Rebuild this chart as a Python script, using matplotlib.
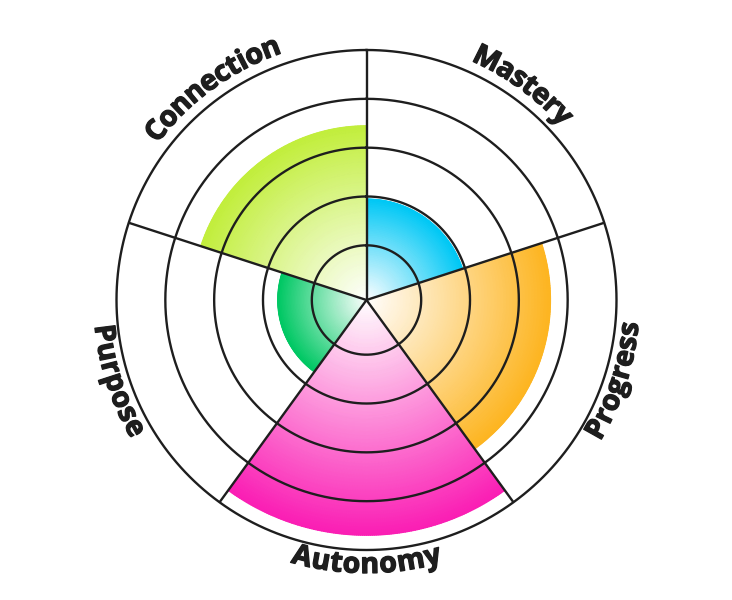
import numpy as np
import matplotlib
matplotlib.use('Agg')
import matplotlib.pyplot as plt
import matplotlib.patheffects as pe
from matplotlib.colors import LinearSegmentedColormap

# ---- data ----
categories = ['Mastery', 'Progress', 'Autonomy', 'Purpose', 'Connection']
values = [1.95, 3.65, 4.7, 1.7, 3.45]
colors = ['#00c8f5', '#fdb521', '#fa1eb4', '#00c864', '#c2ee3c']
rings = [1, 2, 3, 4, 5]
r_min, r_max = -0.12, 5

W, H = 732, 600
fig = plt.figure(figsize=(W / 100, H / 100), dpi=100)
R_PX = 250
cx, cy = 366.5, 300
ax = fig.add_axes([(cx - R_PX) / W, (cy - R_PX) / H, 2 * R_PX / W, 2 * R_PX / H],
                  projection='polar')
ax.set_theta_zero_location('N')
ax.set_theta_direction(-1)
ax.set_ylim(r_min, r_max)
ax.set_axis_off()

n = len(categories)
width = 2 * np.pi / n
line_c = '#1e1e1e'

# gradient sectors
for i, (v, c) in enumerate(zip(values, colors)):
    t0 = i * width
    th = np.linspace(t0, t0 + width, 145)
    rr = np.linspace(r_min, v, 60)
    T, Rg = np.meshgrid(th, rr)
    C = (Rg - r_min) / (v - r_min)
    cmap = LinearSegmentedColormap.from_list('g%d' % i, ['#ffffff', c])
    ax.pcolormesh(T, Rg, C, cmap=cmap, vmin=0, vmax=1, shading='gouraud', zorder=1)

# rings and spokes
th_full = np.linspace(0, 2 * np.pi, 721)
for r in rings:
    ax.plot(th_full, np.full_like(th_full, r), color=line_c, lw=1.7, zorder=3,
            clip_on=False)
for i in range(n):
    ax.plot([i * width, i * width], [r_min, r_max], color=line_c, lw=1.7,
            zorder=3, solid_capstyle='butt', clip_on=False)

# curved labels
renderer = fig.canvas.get_renderer()
font = dict(family=['Open Sans', 'DejaVu Sans'], weight='bold', size=20.5, color=line_c)
effects = [pe.withStroke(linewidth=0.9, foreground=line_c)]


def text_width(s):
    if not s:
        return 0.0
    t = fig.text(0, 0, s, **font)
    w = t.get_window_extent(renderer).width
    t.remove()
    return w


def px_to_r(px):
    return r_min + px / R_PX * (r_max - r_min)


for i, lab in enumerate(categories):
    phi_c = (i + 0.5) * width
    top = np.cos(phi_c) > 0
    base_px = 261 if top else 273
    mid_px = 271 if top else 263
    total = text_width(lab)
    for j, ch in enumerate(lab):
        s_c = (text_width(lab[:j]) + text_width(lab[:j + 1])) / 2 - total / 2
        d = s_c / mid_px
        phi = phi_c + d if top else phi_c - d
        rot = -np.degrees(phi) if top else 180 - np.degrees(phi)
        ax.text(phi, px_to_r(base_px), ch, rotation=rot, rotation_mode='anchor',
                ha='center', va='baseline', path_effects=effects, **font)

fig.savefig('out.png', dpi=100, facecolor='white')
